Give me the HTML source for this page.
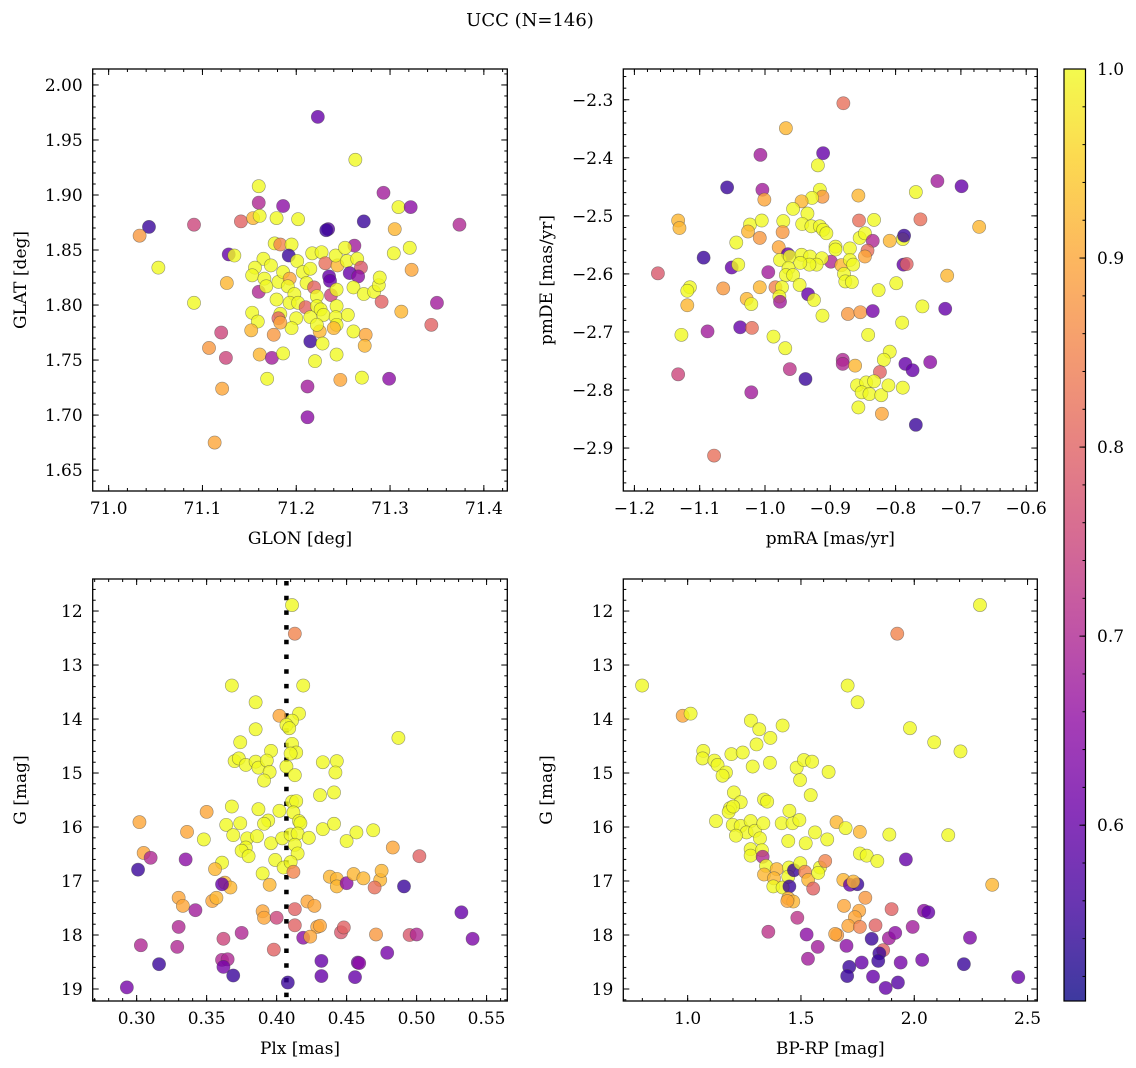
<!DOCTYPE html>
<html>
<head>
<meta charset="utf-8">
<style>
html,body{margin:0;padding:0;background:#fff;}
svg{display:block;}
text{font-family:"DejaVu Serif","Liberation Serif",serif;fill:#000;}
</style>
</head>
<body>
<svg id="fig" xmlns="http://www.w3.org/2000/svg" width="1136" height="1068" viewBox="0 0 1136 1068">
<text x="530" y="26" text-anchor="middle" font-size="18">UCC (N=146)</text>
</svg>
<script>
// ---------- Panel 1: GLON vs GLAT ----------
const p1Lon = [71.223,71.263,71.293,71.309,71.322,71.374,71.043,71.033,71.091,71.141,71.160,71.160,71.186,71.154,71.161,71.179,71.202,71.234,71.232,71.272,71.305,71.321,71.304,71.323,71.262,71.177,71.183,71.195,71.128,71.134,71.192,71.053,71.126,71.091,71.160,71.165,71.173,71.156,71.153,71.166,71.168,71.181,71.186,71.193,71.201,71.207,71.215,71.217,71.227,71.231,71.244,71.242,71.252,71.254,71.265,71.269,71.257,71.266,71.235,71.236,71.237,71.243,71.261,71.272,71.283,71.288,71.289,71.291,71.312,71.350,71.344,71.179,71.191,71.198,71.211,71.219,71.222,71.193,71.202,71.210,71.215,71.222,71.226,71.229,71.243,71.242,71.243,71.240,71.225,71.222,71.200,71.195,71.183,71.181,71.183,71.153,71.159,71.152,71.176,71.255,71.261,71.274,71.273,71.215,71.228,71.120,71.107,71.125,71.161,71.174,71.186,71.220,71.243,71.169,71.212,71.247,71.270,71.299,71.121,71.212,71.113];
const p1Lat = [1.971,1.932,1.902,1.889,1.889,1.873,1.871,1.863,1.873,1.876,1.908,1.893,1.890,1.879,1.881,1.879,1.878,1.869,1.868,1.876,1.869,1.852,1.847,1.832,1.854,1.856,1.855,1.855,1.846,1.845,1.845,1.834,1.820,1.802,1.812,1.842,1.836,1.834,1.827,1.824,1.817,1.821,1.830,1.824,1.840,1.830,1.833,1.847,1.848,1.838,1.836,1.845,1.852,1.840,1.842,1.834,1.829,1.826,1.826,1.822,1.809,1.814,1.816,1.810,1.812,1.818,1.825,1.803,1.794,1.802,1.782,1.805,1.817,1.810,1.820,1.816,1.808,1.802,1.802,1.798,1.789,1.799,1.796,1.791,1.799,1.789,1.782,1.779,1.776,1.782,1.788,1.779,1.792,1.788,1.784,1.793,1.785,1.777,1.773,1.791,1.776,1.773,1.763,1.767,1.765,1.775,1.761,1.752,1.755,1.752,1.756,1.749,1.755,1.733,1.726,1.732,1.734,1.733,1.724,1.698,1.675];
const p1Prob = [.6,1,.68,1,.65,.7,.55,.88,.75,.8,1,.7,.65,.92,1,1,1,.58,.55,.55,.92,1,1,.9,.68,1,.85,1,.6,1,.55,1,.92,1,.7,1,1,1,1,1,1,1,1,.9,1,1,1,1,1,.82,.92,1,1,1,1,.78,.6,.65,.6,.6,.75,1,1,1,1,1,1,.8,.92,.68,.8,1,1,1,1,.8,1,1,1,.8,1,1,1,1,1,1,1,.92,.92,1,1,1,1,.8,.9,1,1,.92,.88,1,1,.9,.92,.55,1,.75,.88,.75,.92,.68,1,1,1,1,.68,.9,1,.65,.9,.65,.9];

// ---------- Panel 2: pmRA vs pmDE ----------
const p2PmRA = [-0.880,-0.968,-1.007,-0.911,-0.919,-1.058,-1.004,-1.001,-0.916,-0.912,
-0.928,-0.944,-0.957,-0.935,-0.857,-0.769,-0.736,-0.699,-0.672,-0.762,
-0.833,-0.856,-1.133,-1.131,-1.023,-1.005,-1.026,-1.008,-0.972,-0.973,
-0.943,-0.929,-0.916,-0.911,-0.906,-1.044,-0.979,-0.965,-0.892,-0.892,
-0.870,-0.855,-0.847,-0.835,-0.843,-0.847,-0.809,-0.789,-0.787,-1.094,
-1.051,-1.041,-1.164,-0.995,-0.899,-0.977,-0.962,-0.944,-0.931,-0.913,
-0.921,-0.932,-0.946,-0.964,-0.968,-0.957,-0.947,-0.883,-0.870,-0.865,
-0.879,-0.877,-0.867,-0.788,-0.783,-0.721,-0.799,-0.826,-1.115,-1.119,
-1.064,-1.008,-0.984,-0.974,-0.978,-0.977,-0.934,-0.925,-1.028,-1.021,
-1.119,-0.912,-0.873,-0.854,-0.835,-0.759,-0.724,-0.790,-1.128,-1.088,
-1.038,-1.020,-0.987,-0.969,-0.842,-0.809,-0.818,-0.881,-0.881,-0.862,
-0.824,-0.785,-0.774,-0.747,-0.962,-0.938,-1.133,-1.021,-0.859,-0.845,
-0.833,-0.852,-0.840,-0.822,-0.811,-0.789,-0.857,-0.821,-0.769,-1.078];
const p2PmDE = [-2.306,-2.349,-2.395,-2.392,-2.413,-2.451,-2.455,-2.472,-2.455,-2.467,
-2.469,-2.475,-2.488,-2.496,-2.465,-2.459,-2.440,-2.449,-2.519,-2.506,
-2.507,-2.508,-2.508,-2.521,-2.515,-2.508,-2.527,-2.538,-2.509,-2.528,
-2.514,-2.518,-2.518,-2.524,-2.530,-2.546,-2.554,-2.566,-2.553,-2.558,
-2.556,-2.538,-2.530,-2.543,-2.560,-2.570,-2.543,-2.540,-2.534,-2.572,
-2.589,-2.584,-2.599,-2.597,-2.579,-2.576,-2.570,-2.567,-2.570,-2.573,
-2.584,-2.584,-2.581,-2.590,-2.602,-2.602,-2.619,-2.585,-2.576,-2.584,
-2.600,-2.613,-2.614,-2.584,-2.583,-2.603,-2.616,-2.628,-2.623,-2.629,
-2.625,-2.623,-2.623,-2.623,-2.639,-2.648,-2.635,-2.645,-2.643,-2.652,
-2.654,-2.672,-2.669,-2.666,-2.664,-2.656,-2.660,-2.684,-2.705,-2.699,
-2.692,-2.693,-2.708,-2.728,-2.705,-2.734,-2.748,-2.748,-2.755,-2.758,
-2.769,-2.755,-2.766,-2.752,-2.764,-2.781,-2.773,-2.804,-2.792,-2.787,
-2.785,-2.804,-2.807,-2.809,-2.792,-2.796,-2.830,-2.841,-2.860,-2.913];
const p2Prob = [.82,.92,.68,.6,1,.55,.68,.9,1,.88,
1,.92,1,1,.92,1,.68,.6,.92,.82,
1,.82,.92,.92,1,1,.92,.88,1,.88,
1,1,1,1,1,1,.9,.6,1,1,
1,1,1,.7,.82,.9,.92,1,.55,.55,
.6,1,.78,.68,.7,1,1,1,1,1,
1,1,1,1,1,1,1,.92,1,1,
1,1,1,.6,.8,.92,1,1,1,1,
.88,.92,.85,1,1,.68,.6,1,.92,1,
.92,1,.88,.88,.62,1,.6,1,1,.68,
.6,.82,1,1,1,1,1,.7,.7,.92,
.8,.6,.6,.65,.72,.55,.75,.68,1,1,
1,1,1,1,1,1,1,.9,.55,.82];

// ---------- Panel 3: Plx vs G ----------
const p3Plx = [0.411,0.413,0.368,0.419,0.385,0.402,0.416,0.411,0.407,0.409,
0.385,0.487,0.374,0.411,0.396,0.414,0.410,0.370,0.373,0.378,
0.385,0.387,0.393,0.395,0.391,0.407,0.413,0.433,0.443,0.442,
0.431,0.441,0.411,0.414,0.368,0.350,0.387,0.402,0.412,0.416,
0.417,0.394,0.391,0.374,0.364,0.369,0.379,0.386,0.378,0.375,
0.380,0.396,0.404,0.410,0.415,0.423,0.413,0.415,0.433,0.441,
0.450,0.457,0.469,0.302,0.336,0.348,0.483,0.305,0.310,0.335,
0.502,0.301,0.361,0.356,0.390,0.399,0.405,0.410,0.412,0.363,
0.367,0.361,0.395,0.438,0.443,0.443,0.450,0.455,0.462,0.474,
0.475,0.470,0.491,0.330,0.333,0.354,0.357,0.342,0.390,0.391,
0.400,0.413,0.422,0.427,0.532,0.330,0.413,0.429,0.431,0.362,
0.375,0.419,0.424,0.446,0.448,0.471,0.495,0.500,0.540,0.303,
0.329,0.398,0.316,0.361,0.365,0.362,0.432,0.458,0.459,0.479,
0.369,0.432,0.456,0.408,0.293];
const p3G = [11.89,12.42,13.38,13.38,13.69,13.94,13.90,14.03,14.11,14.17,
14.19,14.35,14.43,14.46,14.59,14.62,14.64,14.78,14.73,14.85,
14.79,14.90,14.77,14.98,15.14,14.88,15.04,14.80,14.78,14.99,
15.41,15.36,15.53,15.52,15.62,15.72,15.67,15.70,15.73,15.89,
15.93,15.88,15.94,15.93,15.96,16.15,16.21,16.17,16.38,16.44,
16.54,16.30,16.21,16.14,16.12,16.20,16.33,16.49,16.04,15.94,
16.26,16.10,16.06,15.91,16.09,16.23,16.38,16.48,16.57,16.60,
16.54,16.79,16.66,16.78,16.86,16.61,16.75,16.65,16.83,17.03,
17.12,17.06,17.07,16.92,16.96,17.10,17.04,16.87,16.95,16.98,
16.81,17.12,17.10,17.31,17.46,17.37,17.31,17.54,17.56,17.68,
17.68,17.52,17.38,17.46,17.58,17.85,17.82,17.85,17.83,18.07,
17.96,18.05,18.03,17.95,17.86,17.99,18.00,17.99,18.07,18.19,
18.22,18.27,18.54,18.46,18.45,18.59,18.48,18.51,18.52,18.33,
18.75,18.76,18.78,18.88,18.97];
const p3Prob = [1,.85,1,1,1,.9,1,1,1,1,
1,1,1,1,1,1,1,1,1,1,
1,1,1,1,1,1,1,1,1,1,
1,1,1,1,1,.9,1,1,1,1,
1,1,1,1,1,1,1,1,1,1,
1,1,1,1,1,1,1,1,1,1,
1,1,1,.9,.9,1,.9,.9,.7,.65,
.8,.55,1,.92,1,1,1,1,.85,.92,
.92,.6,.92,.92,.92,.92,.65,.92,.92,.92,
.92,.82,.55,.9,.9,.9,.92,.68,.9,.9,
.75,.8,.9,.9,.6,.7,.8,.9,.9,.75,
.7,.65,.9,.78,.8,.88,.78,.7,.63,.7,
.7,.8,.55,.7,.7,.62,.6,.62,.65,.62,
.55,.6,.6,.55,.62];
const p3PlxLine = [0.407];

// ---------- Panel 4: BP-RP vs G ----------
const p4BpRp = [2.290,1.925,0.799,1.706,1.750,0.978,1.013,1.279,1.316,1.419,
1.365,1.981,2.088,2.204,1.304,1.069,1.066,1.193,1.243,1.118,
1.132,1.169,1.154,1.363,1.287,1.481,1.513,1.549,1.496,1.622,
1.543,1.204,1.234,1.337,1.351,1.187,1.181,1.201,1.125,1.199,
1.234,1.278,1.260,1.213,1.297,1.319,1.334,1.415,1.463,1.493,
1.449,1.444,1.521,1.562,1.616,1.657,1.697,1.760,1.890,2.150,
1.278,1.278,1.328,1.331,1.760,1.790,1.837,1.963,1.346,1.393,
1.337,1.381,1.378,1.419,1.447,1.444,1.469,1.497,1.518,1.532,
1.449,1.554,1.584,1.576,1.607,1.687,1.716,1.749,1.731,2.344,
1.444,1.466,1.440,1.690,1.784,1.757,1.738,1.900,2.043,2.062,
1.484,1.356,1.709,1.760,1.829,1.993,1.525,1.660,1.651,1.812,
1.888,1.916,2.246,1.574,1.701,1.863,1.846,1.531,1.713,1.768,
1.841,1.940,2.035,2.219,1.704,1.818,1.874,1.928,2.459];
const p4G = [11.89,12.42,13.38,13.38,13.69,13.94,13.90,14.03,14.19,14.12,
14.35,14.17,14.43,14.60,14.47,14.59,14.73,14.65,14.62,14.77,
14.85,14.99,15.05,14.81,14.88,14.90,14.76,14.79,15.13,14.98,
15.41,15.36,15.54,15.49,15.53,15.65,15.72,15.62,15.89,15.96,
15.98,15.89,16.10,16.16,16.07,16.21,15.93,15.93,15.93,15.87,
15.70,16.26,16.30,16.10,16.23,15.91,16.02,16.09,16.14,16.15,
16.41,16.53,16.43,16.55,16.49,16.53,16.63,16.60,16.72,16.78,
16.88,16.95,17.10,17.12,16.75,16.92,16.80,16.67,16.83,16.98,
17.10,17.14,16.75,16.85,16.63,16.98,17.07,17.06,17.01,17.07,
17.32,17.38,17.37,17.46,17.31,17.55,17.67,17.52,17.55,17.58,
17.68,17.94,17.83,17.85,17.82,17.85,17.99,18.00,17.98,18.07,
18.06,17.96,18.05,18.22,18.20,18.28,18.34,18.44,18.59,18.51,
18.48,18.51,18.46,18.54,18.76,18.77,18.98,18.88,18.78];
const p4Prob = [1,.85,1,1,1,.9,1,1,1,1,
1,1,1,1,1,1,1,1,1,1,
1,1,1,1,1,1,1,1,1,1,
1,1,1,1,1,1,1,1,1,1,
1,1,1,1,1,1,1,1,1,1,
1,1,1,1,1,.92,1,.92,1,1,
1,1,1,.7,1,1,1,.6,1,.92,
.92,.92,1,1,1,1,.55,1,.85,.92,
.55,.8,1,1,.85,.92,.6,.55,.92,.92,
.92,.92,.9,.9,.88,.9,.9,.8,.65,.6,
.72,.72,.9,.85,.8,.68,.65,.88,.9,.55,
.68,.65,.63,.68,.65,.8,.55,.68,.55,.6,
.55,.62,.62,.55,.55,.6,.6,.58,.6];

// ---------- Colorbar ----------
const cbTicks = [0.6,0.7,0.8,0.9,1.0];
const cbRange = [0.507,1.0];

const NS = "http://www.w3.org/2000/svg";
const svg = document.getElementById('fig');
const plasmaStops = [[13,8,135],[65,4,157],[106,0,168],[143,13,164],[177,42,144],[204,71,120],[225,100,98],[242,132,75],[252,166,54],[252,206,37],[240,249,33]];
function plasma(t){
  t=Math.max(0,Math.min(1,t));
  const f=t*10, i=Math.min(9,Math.floor(f)), u=f-i;
  const a=plasmaStops[i], b=plasmaStops[i+1];
  return 'rgb('+[0,1,2].map(k=>Math.round(a[k]+(b[k]-a[k])*u)).join(',')+')';
}
function colorOf(v){ return plasma((v-cbRange[0])/(cbRange[1]-cbRange[0])); }
function el(tag, attrs, parent){
  const e=document.createElementNS(NS,tag);
  for(const k in attrs) e.setAttribute(k,attrs[k]);
  (parent||svg).appendChild(e);
  return e;
}
function fmt(v,d){ const s=Math.abs(v).toFixed(d); return (v<-1e-9?'\u2212':'')+s; }
function range(a,b,step){ const out=[]; const n=Math.round((b-a)/step); for(let i=0;i<=n;i++) out.push(a+i*step); return out; }

function panel(cfg){
  const g=el('g',{});
  
  
  const {x0,x1,y0,y1}=cfg.box;
  const sx=v=>x0+(v-cfg.xmin)/(cfg.xmax-cfg.xmin)*(x1-x0);
  const sy=cfg.invert ? (v=>y0+(v-cfg.ymin)/(cfg.ymax-cfg.ymin)*(y1-y0)) : (v=>y1-(v-cfg.ymin)/(cfg.ymax-cfg.ymin)*(y1-y0));
  // minor & major ticks
  const tg=el('g',{stroke:'#000','stroke-width':1},g);
  
  
  const lo=Math.min(cfg.xmin,cfg.xmax), hi=Math.max(cfg.xmin,cfg.xmax);
  range(Math.ceil(lo/cfg.xminor-1e-6)*cfg.xminor, hi, cfg.xminor).forEach(v=>{
    if(v<lo||v>hi) return; const x=sx(v);
    el('line',{x1:x,x2:x,y1:y1,y2:y1-3},tg); el('line',{x1:x,x2:x,y1:y0,y2:y0+3},tg);
  });
  const ylo=Math.min(cfg.ymin,cfg.ymax), yhi=Math.max(cfg.ymin,cfg.ymax);
  range(Math.ceil(ylo/cfg.yminor-1e-6)*cfg.yminor, yhi, cfg.yminor).forEach(v=>{
    if(v<ylo||v>yhi) return; const y=sy(v);
    el('line',{x1:x0,x2:x0+3,y1:y,y2:y},tg); el('line',{x1:x1,x2:x1-3,y1:y,y2:y},tg);
  });
  cfg.xticks.forEach(v=>{
    const x=sx(v);
    el('line',{x1:x,x2:x,y1:y1,y2:y1-6},tg); el('line',{x1:x,x2:x,y1:y0,y2:y0+6},tg);
    const t=el('text',{x:x,y:y1+23,'text-anchor':'middle','font-size':17},g);
    t.textContent=fmt(v,cfg.xdec);
    
    
  });
  cfg.yticks.forEach(v=>{
    const y=sy(v);
    el('line',{x1:x0,x2:x0+6,y1:y,y2:y},tg); el('line',{x1:x1,x2:x1-6,y1:y,y2:y},tg);
    const t=el('text',{x:x0-10,y:y+6,'text-anchor':'end','font-size':17},g);
    t.textContent=fmt(v,cfg.ydec);
    
    
  });
  // extra line
  if(cfg.vline){
    cfg.vline.forEach(v=>{
      const l=el('line',{x1:sx(v),x2:sx(v),y1:y0+2,y2:y1,stroke:'#000','stroke-width':4.5,'stroke-dasharray':'4.5 10.2'},g);
      
      
    });
  }
  // points
  const pg=el('g',{},g);
  
  
  const n=Math.min(cfg.xs.length,cfg.ys.length,cfg.cs.length);
  for(let i=0;i<n;i++){
    const c=el('circle',{cx:sx(cfg.xs[i]),cy:sy(cfg.ys[i]),r:6.6,fill:colorOf(cfg.cs[i]),'fill-opacity':0.8,stroke:'rgba(70,70,70,0.55)','stroke-width':0.6},pg);
    
    
  }
  // frame
  const fr=el('rect',{x:x0,y:y0,width:x1-x0,height:y1-y0,fill:'none',stroke:'#000','stroke-width':1.3},g);
  
  
  // axis labels
  const xl=el('text',{x:(x0+x1)/2,y:y1+53,'text-anchor':'middle','font-size':17},g);
  xl.textContent=cfg.xlabel;
  
  
  const yl=el('text',{x:0,y:0,'text-anchor':'middle','font-size':17,transform:'translate('+(cfg.ylabX)+','+((y0+y1)/2)+') rotate(-90)'},g);
  yl.textContent=cfg.ylabel;
  
  
}

panel({name:'glon-glat-panel',box:{x0:92.7,x1:507.3,y0:69,y1:491},xmin:70.983,xmax:71.425,ymin:1.631,ymax:2.0145,
  xticks:range(71.0,71.4,0.1),xminor:0.02,yticks:range(1.65,2.0,0.05),yminor:0.01,xdec:1,ydec:2,
  xs:p1Lon,ys:p1Lat,cs:p1Prob,xlabel:'GLON [deg]',ylabel:'GLAT [deg]',ylabX:26});
panel({name:'pm-panel',box:{x0:623.3,x1:1037.3,y0:69,y1:491},xmin:-1.217,xmax:-0.583,ymin:-2.974,ymax:-2.247,
  xticks:range(-1.2,-0.6,0.1),xminor:0.02,yticks:range(-2.9,-2.3,0.1),yminor:0.02,xdec:1,ydec:1,
  xs:p2PmRA,ys:p2PmDE,cs:p2Prob,xlabel:'pmRA [mas/yr]',ylabel:'pmDE [mas/yr]',ylabX:552});
panel({name:'plx-g-panel',box:{x0:92.7,x1:507.3,y0:579,y1:1001},xmin:0.2686,xmax:0.5648,ymin:11.407,ymax:19.222,invert:true,
  xticks:range(0.30,0.55,0.05),xminor:0.01,yticks:range(12,19,1),yminor:0.2,xdec:2,ydec:0,
  xs:p3Plx,ys:p3G,cs:p3Prob,vline:p3PlxLine,xlabel:'Plx [mas]',ylabel:'G [mag]',ylabX:26});
panel({name:'cmd-panel',box:{x0:623.3,x1:1037.3,y0:579,y1:1001},xmin:0.716,xmax:2.543,ymin:11.407,ymax:19.222,invert:true,
  xticks:range(1.0,2.5,0.5),xminor:0.1,yticks:range(12,19,1),yminor:0.2,xdec:1,ydec:0,
  xs:p4BpRp,ys:p4G,cs:p4Prob,xlabel:'BP-RP [mag]',ylabel:'G [mag]',ylabX:552});

// colorbar
(function(){
  const cx0=1064, cx1=1085.5, cy0=69, cy1=1001;
  const defs=el('defs',{});
  const lg=el('linearGradient',{id:'cbgrad',x1:0,y1:1,x2:0,y2:0},defs);
  for(let i=0;i<=40;i++){ el('stop',{offset:(i/40),'stop-color':plasma(i/40),'stop-opacity':0.8},lg); }
  const g=el('g',{});
  
  
  const r=el('rect',{x:cx0,y:cy0,width:cx1-cx0,height:cy1-cy0,fill:'url(#cbgrad)',stroke:'#000','stroke-width':1.2},g);
  
  
  const sy=v=>cy1-(v-cbRange[0])/(cbRange[1]-cbRange[0])*(cy1-cy0);
  range(0.52,1.0,0.02).forEach(v=>{ const y=sy(v); el('line',{x1:cx1,x2:cx1-3,y1:y,y2:y,stroke:'#000','stroke-width':1},g); });
  cbTicks.forEach(v=>{
    const y=sy(v);
    el('line',{x1:cx1,x2:cx1-6,y1:y,y2:y,stroke:'#000','stroke-width':1},g);
    const t=el('text',{x:1097,y:y+6,'font-size':17},g);
    t.textContent=v.toFixed(1);
    
    
  });
})();
</script>
</body>
</html>
